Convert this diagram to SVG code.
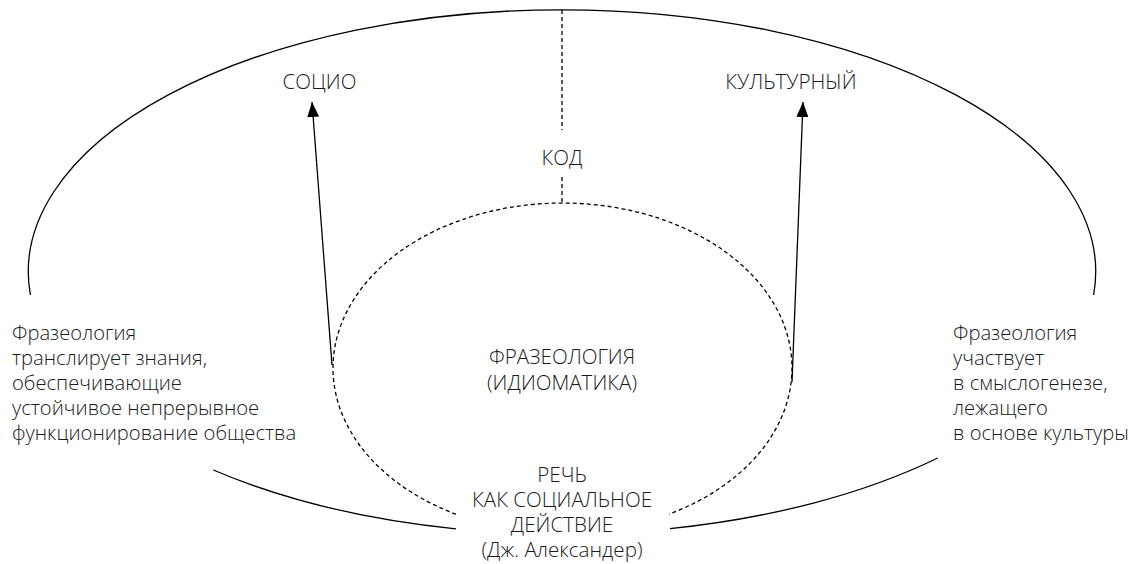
<svg xmlns="http://www.w3.org/2000/svg" width="1134" height="564" viewBox="0 0 1134 564">
<style>
text{font-family:"Open Sans","DejaVu Sans",sans-serif;font-size:20.6px;font-weight:300;fill:#1a1a1a}
.c{text-anchor:middle}
.n{font-size:20.2px}
.solid{fill:none;stroke:#000;stroke-width:1.3}
.dash{fill:none;stroke:#000;stroke-width:1.3;stroke-dasharray:4 3}
</style>
<defs>
<marker id="ah" markerWidth="15" markerHeight="12" refX="15" refY="6" orient="auto" markerUnits="userSpaceOnUse">
<path d="M0,0 L15,6 L0,12 Z" fill="#000"/>
</marker>
</defs>
<g id="outer">
<path class="solid" d="M30.4,295 A533.7,262 0 1 1 1093.6,295"/>
<path class="solid" d="M213.3,470 A533.7,262 0 0 0 456,528.8"/>
<path class="solid" d="M670,528.6 A533.7,262 0 0 0 937.7,458"/>
</g>
<g id="inner">
<path class="dash" d="M456,514.2 A229.5,165 0 1 1 669,514.2"/>
</g>
<g id="connectors">
<line class="dash" x1="562" y1="10" x2="562" y2="130"/>
<line class="dash" x1="562" y1="177" x2="562" y2="203"/>
<line class="solid" x1="332" y1="365" x2="312" y2="102" marker-end="url(#ah)"/>
<line class="solid" x1="792" y1="382" x2="803" y2="102" marker-end="url(#ah)"/>
</g>
<g id="socio"><text class="c" x="319.5" y="89">СОЦИО</text></g>
<g id="cultural"><text class="c" x="791" y="89">КУЛЬТУРНЫЙ</text></g>
<g id="code"><text class="c" x="562" y="165">КОД</text></g>
<g id="phraseology"><text class="c" x="562" y="364">ФРАЗЕОЛОГИЯ</text><text class="c" x="562" y="390">(ИДИОМАТИКА)</text></g>
<g id="speech">
<text class="c" x="562" y="482">РЕЧЬ</text>
<text class="c" x="562" y="507">КАК СОЦИАЛЬНОЕ</text>
<text class="c" x="562" y="532">ДЕЙСТВИЕ</text>
<text class="c" x="562" y="557">(Дж. Александер)</text>
</g>
<g id="left-note">
<text class="n" x="12" y="340">Фразеология</text>
<text class="n" x="12" y="365">транслирует знания,</text>
<text class="n" x="12" y="390">обеспечивающие</text>
<text class="n" x="12" y="415">устойчивое непрерывное</text>
<text class="n" x="12" y="440">функционирование общества</text>
</g>
<g id="right-note">
<text class="n" x="953" y="340">Фразеология</text>
<text class="n" x="953" y="365">участвует</text>
<text class="n" x="953" y="390">в смыслогенезе,</text>
<text class="n" x="953" y="415">лежащего</text>
<text class="n" x="953" y="440">в основе культуры</text>
</g>
</svg>
